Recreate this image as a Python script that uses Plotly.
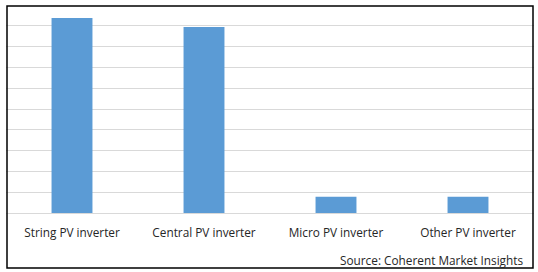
import plotly.graph_objects as go

categories = ["String PV inverter", "Central PV inverter", "Micro PV inverter", "Other PV inverter"]
values = [9.38, 8.94, 0.78, 0.78]
source_text = "Source: Coherent Market Insights"

W, H = 538, 272
ml, mr, mt, mb = 6, 4, 5, 59
pw, ph = W - ml - mr, H - mt - mb

fig = go.Figure(go.Bar(
    x=categories, y=values,
    marker=dict(color="#5B9BD5", line=dict(width=0)),
    width=0.31,
))

font_family = "Open Sans, Liberation Sans, sans-serif"

fig.update_layout(
    width=W, height=H,
    margin=dict(l=ml, r=mr, t=mt, b=mb),
    paper_bgcolor="white", plot_bgcolor="white",
    showlegend=False,
    font=dict(family=font_family, size=12, color="#262626"),
    xaxis=dict(
        showgrid=False, showline=False, zeroline=False,
        ticks="", tickfont=dict(size=11.8, color="#262626"),
        ticklabelstandoff=11,
        range=[-0.5, 3.5],
    ),
    yaxis=dict(
        range=[0, 10], tickvals=[1, 2, 3, 4, 5, 6, 7, 8, 9],
        showgrid=True, gridcolor="#D9D9D9", gridwidth=1,
        zeroline=True, zerolinecolor="#D9D9D9", zerolinewidth=1,
        showticklabels=False, showline=False, ticks="",
    ),
)

fig.add_shape(
    type="rect", xref="paper", yref="paper",
    x0=(7 - ml) / pw, x1=(533 - ml) / pw,
    y0=(H - mb - 268) / ph, y1=(H - mb - 6) / ph,
    line=dict(color="black", width=1.5), fillcolor="rgba(0,0,0,0)",
)

fig.add_annotation(
    text=source_text, xref="paper", yref="paper",
    x=(525 - ml) / pw, y=(H - mb - 260) / ph,
    xanchor="right", yanchor="middle", showarrow=False,
    font=dict(size=11.8, color="#262626", family=font_family),
)

fig.write_html("out.html")
